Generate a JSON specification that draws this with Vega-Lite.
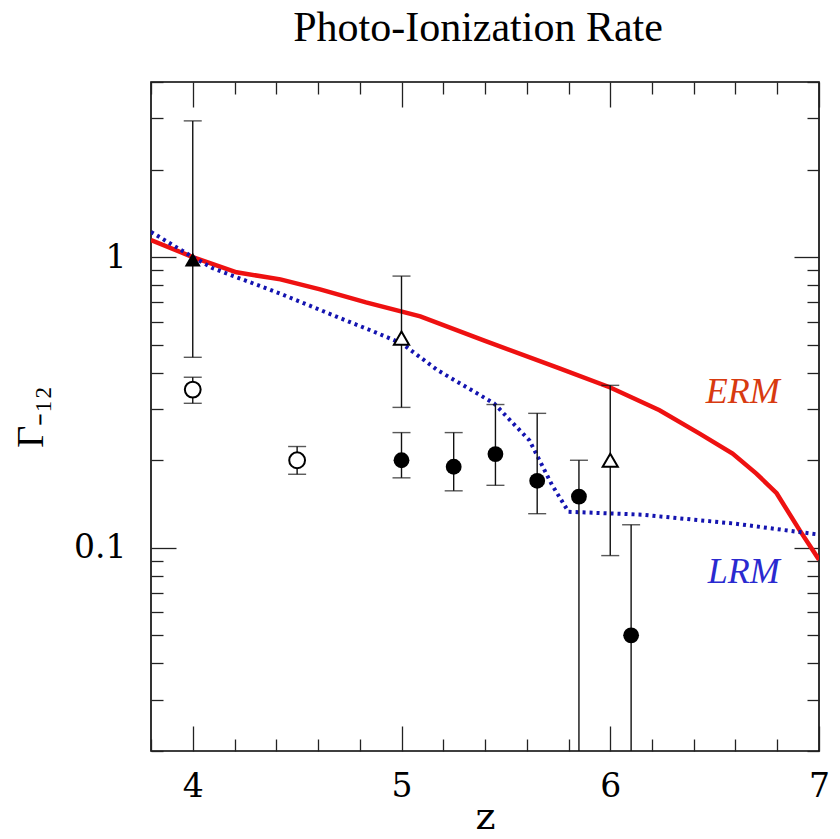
{
  "$schema": "https://vega.github.io/schema/vega-lite/v6.json",
  "width": 668,
  "height": 669,
  "autosize": {"type": "none"},
  "padding": {"left": 151, "top": 82, "right": 21, "bottom": 88},
  "background": "white",
  "title": {
    "text": "Photo-Ionization Rate",
    "font": "Liberation Serif",
    "fontSize": 42,
    "fontWeight": "normal",
    "color": "black",
    "anchor": "middle",
    "offset": 16,
    "dx": -7
  },
  "config": {
    "view": {"stroke": "black", "strokeWidth": 1.6},
    "axis": {
      "domain": false,
      "grid": false,
      "tickColor": "#222",
      "tickWidth": 1.3,
      "labelFont": "DejaVu Serif",
      "labelFontSize": 33,
      "labelColor": "black",
      "titleFont": "DejaVu Serif",
      "titleFontWeight": "normal",
      "titleColor": "black",
      "labelOverlap": false,
      "labelFlush": false
    }
  },
  "datasets": {
    "curves": [
      {"model": "ERM", "z": 3.8, "g": 1.144},
      {"model": "ERM", "z": 4.0, "g": 1.0},
      {"model": "ERM", "z": 4.21, "g": 0.886},
      {"model": "ERM", "z": 4.42, "g": 0.838},
      {"model": "ERM", "z": 4.61, "g": 0.774},
      {"model": "ERM", "z": 4.83, "g": 0.698},
      {"model": "ERM", "z": 5.09, "g": 0.625},
      {"model": "ERM", "z": 5.4, "g": 0.515},
      {"model": "ERM", "z": 5.757, "g": 0.414},
      {"model": "ERM", "z": 6.0, "g": 0.356},
      {"model": "ERM", "z": 6.236, "g": 0.297},
      {"model": "ERM", "z": 6.428, "g": 0.247},
      {"model": "ERM", "z": 6.586, "g": 0.211},
      {"model": "ERM", "z": 6.7, "g": 0.18},
      {"model": "ERM", "z": 6.797, "g": 0.154},
      {"model": "ERM", "z": 6.907, "g": 0.115},
      {"model": "ERM", "z": 7.0, "g": 0.091},
      {"model": "LRM", "z": 3.8, "g": 1.22},
      {"model": "LRM", "z": 4.0, "g": 1.0},
      {"model": "LRM", "z": 4.096, "g": 0.915},
      {"model": "LRM", "z": 4.416, "g": 0.75},
      {"model": "LRM", "z": 4.707, "g": 0.616},
      {"model": "LRM", "z": 4.851, "g": 0.56},
      {"model": "LRM", "z": 5.0, "g": 0.505},
      {"model": "LRM", "z": 5.173, "g": 0.408},
      {"model": "LRM", "z": 5.443, "g": 0.314},
      {"model": "LRM", "z": 5.613, "g": 0.234},
      {"model": "LRM", "z": 5.72, "g": 0.165},
      {"model": "LRM", "z": 5.8, "g": 0.133},
      {"model": "LRM", "z": 6.15, "g": 0.13},
      {"model": "LRM", "z": 6.6, "g": 0.121},
      {"model": "LRM", "z": 7.0, "g": 0.111}
    ],
    "points": [
      {"z": 4.0, "g": 0.98, "lo": 0.452, "hi": 2.94, "sym": "filled triangle"},
      {"z": 4.0, "g": 0.35, "lo": 0.314, "hi": 0.386, "sym": "open circle"},
      {"z": 4.5, "g": 0.2, "lo": 0.179, "hi": 0.223, "sym": "open circle"},
      {"z": 5.0, "g": 0.526, "lo": 0.304, "hi": 0.86, "sym": "open triangle"},
      {"z": 5.0, "g": 0.2, "lo": 0.174, "hi": 0.249, "sym": "filled circle"},
      {"z": 5.25, "g": 0.19, "lo": 0.157, "hi": 0.249, "sym": "filled circle"},
      {"z": 5.45, "g": 0.21, "lo": 0.164, "hi": 0.311, "sym": "filled circle"},
      {"z": 5.65, "g": 0.17, "lo": 0.131, "hi": 0.29, "sym": "filled circle"},
      {"z": 5.85, "g": 0.15, "lo": 0.001, "hi": 0.2, "sym": "filled circle"},
      {"z": 6.0, "g": 0.2, "lo": 0.094, "hi": 0.362, "sym": "open triangle"},
      {"z": 6.1, "g": 0.05, "lo": 0.001, "hi": 0.12, "sym": "filled circle"}
    ],
    "labels": [
      {"text": "ERM", "z": 6.635, "g": 0.314, "model": "ERM"},
      {"text": "LRM", "z": 6.64, "g": 0.0757, "model": "LRM"}
    ]
  },
  "resolve": {"axis": {"x": "independent", "y": "independent"}},
  "layer": [
    {
      "data": {"name": "curves"},
      "transform": [{"filter": "datum.model == 'ERM'"}],
      "mark": {"type": "line", "color": "#ee1111", "strokeWidth": 4.5, "clip": true},
      "encoding": {
        "x": {
          "field": "z", "type": "quantitative",
          "scale": {"domain": [3.8, 7], "nice": false, "zero": false},
          "axis": {
            "orient": "bottom",
            "title": "z",
            "titleFontSize": 38,
            "titlePadding": -18,
            "values": [3.8, 4, 4.2, 4.4, 4.6, 4.8, 5, 5.2, 5.4, 5.6, 5.8, 6, 6.2, 6.4, 6.6, 6.8, 7],
            "labelExpr": "abs(datum.value - round(datum.value)) < 0.001 ? format(datum.value, 'd') : ''",
            "tickSize": {"condition": {"test": "abs(datum.value - round(datum.value)) < 0.001", "value": -25}, "value": -12},
            "labelPadding": 44
          }
        },
        "y": {
          "field": "g", "type": "quantitative",
          "scale": {"type": "log", "domain": [0.02, 4], "nice": false},
          "axis": {
            "orient": "left",
            "title": "Γ₋₁₂",
            "titleFont": "Liberation Serif",
            "titleFontSize": 38,
            "titleAngle": -90,
            "titlePadding": 23,
            "values": [0.02, 0.03, 0.04, 0.05, 0.06, 0.07, 0.08, 0.09, 0.1, 0.2, 0.3, 0.4, 0.5, 0.6, 0.7, 0.8, 0.9, 1, 2, 3, 4],
            "labelExpr": "datum.value == 1 ? '1' : abs(datum.value - 0.1) < 1e-9 ? '0.1' : ''",
            "tickSize": {"condition": {"test": "datum.value == 1 || abs(datum.value - 0.1) < 1e-9", "value": -25}, "value": -12},
            "labelPadding": 50
          }
        }
      }
    },
    {
      "data": {"name": "curves"},
      "transform": [{"filter": "datum.model == 'LRM'"}],
      "mark": {"type": "line", "color": "#1414b0", "strokeWidth": 4, "strokeDash": [3, 4], "clip": true},
      "encoding": {
        "x": {
          "field": "z", "type": "quantitative",
          "axis": {
            "orient": "top",
            "title": null,
            "labels": false,
            "values": [3.8, 4, 4.2, 4.4, 4.6, 4.8, 5, 5.2, 5.4, 5.6, 5.8, 6, 6.2, 6.4, 6.6, 6.8, 7],
            "tickSize": {"condition": {"test": "abs(datum.value - round(datum.value)) < 0.001", "value": -25}, "value": -12}
          }
        },
        "y": {
          "field": "g", "type": "quantitative",
          "axis": {
            "orient": "right",
            "title": null,
            "labels": false,
            "values": [0.02, 0.03, 0.04, 0.05, 0.06, 0.07, 0.08, 0.09, 0.1, 0.2, 0.3, 0.4, 0.5, 0.6, 0.7, 0.8, 0.9, 1, 2, 3, 4],
            "tickSize": {"condition": {"test": "datum.value == 1 || abs(datum.value - 0.1) < 1e-9", "value": -25}, "value": -12}
          }
        }
      }
    },
    {
      "data": {"name": "points"},
      "mark": {"type": "rule", "color": "#111", "strokeWidth": 1.4, "clip": true},
      "encoding": {
        "x": {"field": "z", "type": "quantitative", "axis": null},
        "y": {"field": "lo", "type": "quantitative", "axis": null},
        "y2": {"field": "hi"}
      }
    },
    {
      "data": {"name": "points"},
      "mark": {"type": "tick", "orient": "horizontal", "color": "#111", "size": 18, "thickness": 1.4, "clip": true},
      "encoding": {
        "x": {"field": "z", "type": "quantitative", "axis": null},
        "y": {"field": "hi", "type": "quantitative", "axis": null}
      }
    },
    {
      "data": {"name": "points"},
      "transform": [{"filter": "datum.lo >= 0.02"}],
      "mark": {"type": "tick", "orient": "horizontal", "color": "#111", "size": 18, "thickness": 1.4, "clip": true},
      "encoding": {
        "x": {"field": "z", "type": "quantitative", "axis": null},
        "y": {"field": "lo", "type": "quantitative", "axis": null}
      }
    },
    {
      "data": {"name": "points"},
      "transform": [{"filter": "datum.sym == 'filled circle'"}],
      "mark": {"type": "point", "shape": "circle", "filled": true, "color": "black", "size": 250, "opacity": 1},
      "encoding": {
        "x": {"field": "z", "type": "quantitative", "axis": null},
        "y": {"field": "g", "type": "quantitative", "axis": null}
      }
    },
    {
      "data": {"name": "points"},
      "transform": [{"filter": "datum.sym == 'open circle'"}],
      "mark": {"type": "point", "shape": "circle", "filled": false, "stroke": "black", "fill": "white", "strokeWidth": 2, "size": 250, "opacity": 1},
      "encoding": {
        "x": {"field": "z", "type": "quantitative", "axis": null},
        "y": {"field": "g", "type": "quantitative", "axis": null}
      }
    },
    {
      "data": {"name": "points"},
      "transform": [{"filter": "datum.sym == 'filled triangle'"}],
      "mark": {"type": "point", "shape": "triangle-up", "filled": true, "color": "black", "size": 260, "opacity": 1},
      "encoding": {
        "x": {"field": "z", "type": "quantitative", "axis": null},
        "y": {"field": "g", "type": "quantitative", "axis": null}
      }
    },
    {
      "data": {"name": "points"},
      "transform": [{"filter": "datum.sym == 'open triangle'"}],
      "mark": {"type": "point", "shape": "triangle-up", "filled": false, "stroke": "black", "fill": "white", "strokeWidth": 2, "size": 230, "opacity": 1},
      "encoding": {
        "x": {"field": "z", "type": "quantitative", "axis": null},
        "y": {"field": "g", "type": "quantitative", "axis": null}
      }
    },
    {
      "data": {"name": "labels"},
      "mark": {"type": "text", "font": "Liberation Serif", "fontStyle": "italic", "fontSize": 36, "align": "center", "baseline": "alphabetic"},
      "encoding": {
        "x": {"field": "z", "type": "quantitative", "axis": null},
        "y": {"field": "g", "type": "quantitative", "axis": null},
        "text": {"field": "text"},
        "color": {"field": "model", "type": "nominal", "scale": {"domain": ["ERM", "LRM"], "range": ["#d83a10", "#2a2ad0"]}, "legend": null}
      }
    }
  ]
}
